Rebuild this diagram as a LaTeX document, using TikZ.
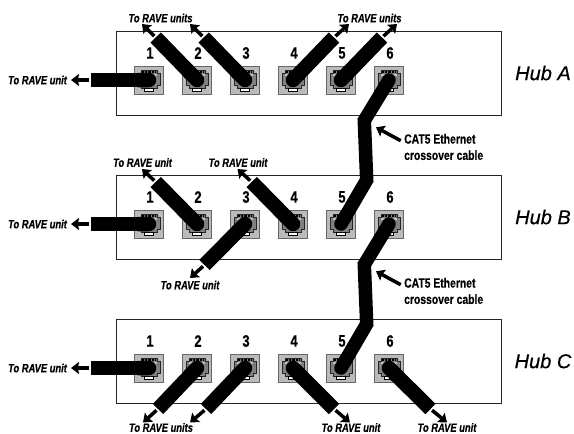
\documentclass[tikz,border=0pt]{standalone}
\usepackage{fontspec}
\usepackage{xcolor}
\usepackage{tikz}
\usetikzlibrary{arrows.meta}

\setmainfont{Liberation Sans}
\newfontfamily\condfont[FakeStretch=0.78,FakeBold=0.35]{Liberation Sans}
\newfontfamily\hubfont[FakeBold=0.5]{Liberation Sans}

\tikzset{
    hub/.style={draw=black!85, line width=0.9pt, fill=white},
    port/.style={draw=black!60, fill=black!27, line width=0.8pt, minimum width=29pt, minimum height=28pt, inner sep=0pt,
        path picture={
            \begin{scope}[shift={(path picture bounding box.center)}]
                \draw[draw=black!85, fill=black!50, line width=0.8pt] (-11,-7) -- (-8,-7) -- (-8,-10) -- (8,-10) -- (8,-7) -- (11,-7) -- (11,5) -- (8,5) -- (8,8) -- (-8,8) -- (-8,5) -- (-11,5) -- cycle;
                \fill[black!25] (-8,-6) rectangle (8,-4);
                \draw[black, line width=2pt, dash pattern=on 0.7pt off 0.7pt] (-7,-8.5) -- (7,-8.5);
                \draw[draw=black, fill=white, line width=0.7pt] (-4.5,8) rectangle (4.5,11.5);
            \end{scope}
        }},
    cable/.style={black, line width=14.5pt, -{Round Cap[]}, shorten >=-7.25pt},
    crosscable/.style={cable, {Round Cap[]}-{Round Cap[]}, line width=13.5pt, shorten <=-6.75pt, shorten >=-6.75pt},
    feed/.style={black, line width=3.5pt, -{Stealth[length=8pt,width=12pt,inset=1.2pt]}, shorten <=2pt},
    num/.style={font=\condfont\bfseries\fontsize{16.5pt}{17pt}\selectfont},
    rave/.style={font=\condfont\bfseries\itshape\fontsize{12pt}{13pt}\selectfont, inner sep=0pt},
    crosslabel/.style={font=\condfont\bfseries\fontsize{13.3pt}{16.3pt}\selectfont, inner sep=0pt, align=left, anchor=west},
    hublabel/.style={font=\hubfont\itshape\fontsize{20pt}{22pt}\selectfont, inner sep=0pt},
}

\begin{document}
\begin{tikzpicture}[x=1pt, y=-1pt]
    \useasboundingbox (0,0) rectangle (574,434);

    \node[hub, minimum width=385pt, minimum height=84pt] at (308.5, 73) (huba) {};
    \node[hub, minimum width=385pt, minimum height=84pt] at (308.5, 217) (hubb) {};
    \node[hub, minimum width=385pt, minimum height=84pt] at (308.5, 361) (hubc) {};

    \node[hublabel] at (543, 73) (namea) {Hub A};
    \node[hublabel] at (543, 217) (nameb) {Hub B};
    \node[hublabel] at (543, 361) (namec) {Hub C};

    \node[port] at (149, 80) (pa1) {};
    \node[port] at (197, 80) (pa2) {};
    \node[port] at (245, 80) (pa3) {};
    \node[port] at (293, 80) (pa4) {};
    \node[port] at (341, 80) (pa5) {};
    \node[port] at (389, 80) (pa6) {};

    \node[port] at (149, 224) (pb1) {};
    \node[port] at (197, 224) (pb2) {};
    \node[port] at (245, 224) (pb3) {};
    \node[port] at (293, 224) (pb4) {};
    \node[port] at (341, 224) (pb5) {};
    \node[port] at (389, 224) (pb6) {};

    \node[port] at (149, 368) (pc1) {};
    \node[port] at (197, 368) (pc2) {};
    \node[port] at (245, 368) (pc3) {};
    \node[port] at (293, 368) (pc4) {};
    \node[port] at (341, 368) (pc5) {};
    \node[port] at (389, 368) (pc6) {};

    \node[num] at (150, 53) (na1) {1};
    \node[num] at (198, 53) (na2) {2};
    \node[num] at (246, 53) (na3) {3};
    \node[num] at (294, 53) (na4) {4};
    \node[num] at (342, 53) (na5) {5};
    \node[num] at (390, 53) (na6) {6};

    \node[num] at (150, 197) (nb1) {1};
    \node[num] at (198, 197) (nb2) {2};
    \node[num] at (246, 197) (nb3) {3};
    \node[num] at (294, 197) (nb4) {4};
    \node[num] at (342, 197) (nb5) {5};
    \node[num] at (390, 197) (nb6) {6};

    \node[num] at (150, 341) (nc1) {1};
    \node[num] at (198, 341) (nc2) {2};
    \node[num] at (246, 341) (nc3) {3};
    \node[num] at (294, 341) (nc4) {4};
    \node[num] at (342, 341) (nc5) {5};
    \node[num] at (390, 341) (nc6) {6};

    \node[rave] at (37.5, 80) (ta1) {To RAVE unit};
    \node[rave] at (160.5, 18) (ta2) {To RAVE units};
    \node[rave] at (369.5, 18) (ta4) {To RAVE units};

    \node[rave] at (37.5, 224) (tb1) {To RAVE unit};
    \node[rave] at (142.5, 162.5) (tb2) {To RAVE unit};
    \node[rave] at (238, 162.5) (tb4) {To RAVE unit};
    \node[rave] at (190, 285) (tb3) {To RAVE unit};

    \node[rave] at (37.5, 368) (tc1) {To RAVE unit};
    \node[rave] at (161, 427.5) (tc2) {To RAVE units};
    \node[rave] at (351, 427.5) (tc4) {To RAVE unit};
    \node[rave] at (447, 427.5) (tc6) {To RAVE unit};

    \node[crosslabel] at (404, 147) (xa) {CAT5 Ethernet\\crossover cable};
    \node[crosslabel] at (404, 291) (xb) {CAT5 Ethernet\\crossover cable};

    \coordinate (ea1) at (91, 80);
    \coordinate (ea2) at (155.7, 37.5);
    \coordinate (ea3) at (203.7, 37.5);
    \coordinate (ea4) at (334, 37.5);
    \coordinate (ea5) at (382, 37.5);
    \coordinate (eb1) at (91, 224);
    \coordinate (eb2) at (155.7, 182);
    \coordinate (eb3) at (204.5, 265);
    \coordinate (eb4) at (251.7, 182);
    \coordinate (ec1) at (91, 368);
    \coordinate (ec2) at (158, 409);
    \coordinate (ec3) at (206, 409);
    \coordinate (ec4) at (334, 409);
    \coordinate (ec6) at (430.5, 409);

    \coordinate (aa1) at (71, 80);
    \coordinate (aa2) at (142, 24);
    \coordinate (aa3) at (190, 24);
    \coordinate (aa4) at (349, 24);
    \coordinate (aa5) at (397, 24);
    \coordinate (ab1) at (71, 224);
    \coordinate (ab2) at (142, 169);
    \coordinate (ab3) at (190, 278);
    \coordinate (ab4) at (237.5, 169);
    \coordinate (ac1) at (71, 368);
    \coordinate (ac2) at (143, 422.5);
    \coordinate (ac3) at (190, 422.5);
    \coordinate (ac4) at (350, 422.5);
    \coordinate (ac6) at (447, 422.5);

    \coordinate (ka) at (364.3, 120.5);
    \coordinate (la) at (366.7, 180);
    \coordinate (kb) at (364.3, 264.5);
    \coordinate (lb) at (366.7, 324);
    \coordinate (sa) at (400.7, 140.7);
    \coordinate (ta) at (376, 127.3);
    \coordinate (sb) at (400.7, 284.7);
    \coordinate (tb) at (376, 271.3);

    \draw[cable] (ea1) -- (pa1.center);
    \draw[cable] (ea2) -- (pa2.center);
    \draw[cable] (ea3) -- (pa3.center);
    \draw[cable] (ea4) -- (pa4.center);
    \draw[cable] (ea5) -- (pa5.center);
    \draw[cable] (eb1) -- (pb1.center);
    \draw[cable] (eb2) -- (pb2.center);
    \draw[cable] (eb3) -- (pb3.center);
    \draw[cable] (eb4) -- (pb4.center);
    \draw[cable] (ec1) -- (pc1.center);
    \draw[cable] (ec2) -- (pc2.center);
    \draw[cable] (ec3) -- (pc3.center);
    \draw[cable] (ec4) -- (pc4.center);
    \draw[cable] (ec6) -- (pc6.center);

    \draw[crosscable] (pa6.center) -- (ka) -- (la) -- (pb5.center);
    \draw[crosscable] (pb6.center) -- (kb) -- (lb) -- (pc5.center);

    \draw[feed] (ea1) -- (aa1);
    \draw[feed] (ea2) -- (aa2);
    \draw[feed] (ea3) -- (aa3);
    \draw[feed] (ea4) -- (aa4);
    \draw[feed] (ea5) -- (aa5);
    \draw[feed] (eb1) -- (ab1);
    \draw[feed] (eb2) -- (ab2);
    \draw[feed] (eb3) -- (ab3);
    \draw[feed] (eb4) -- (ab4);
    \draw[feed] (ec1) -- (ac1);
    \draw[feed] (ec2) -- (ac2);
    \draw[feed] (ec3) -- (ac3);
    \draw[feed] (ec4) -- (ac4);
    \draw[feed] (ec6) -- (ac6);
    \draw[feed, shorten <=0pt] (sa) -- (ta);
    \draw[feed, shorten <=0pt] (sb) -- (tb);
\end{tikzpicture}
\end{document}
